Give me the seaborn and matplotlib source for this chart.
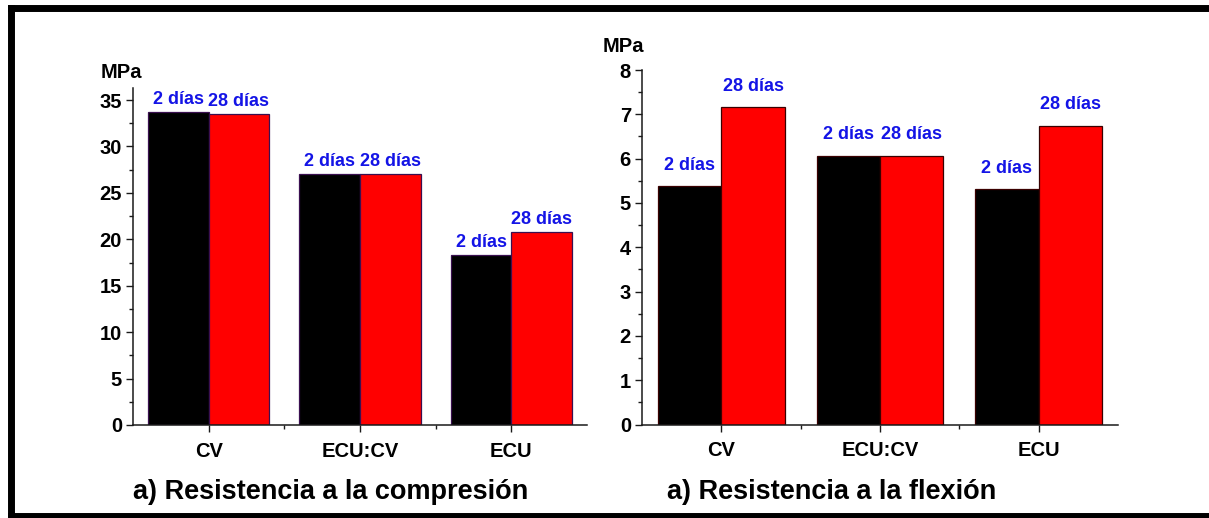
import matplotlib
matplotlib.use("Agg")
import matplotlib.pyplot as plt
from matplotlib.ticker import MultipleLocator, FixedLocator
import seaborn as sns
import pandas as pd

# Mezclas y edades de ensayo
mezclas = ["CV", "ECU:CV", "ECU"]
edades = ["2 días", "28 días"]

# Resistencia (MPa) por mezcla
compresion_2d = [33.7, 27.0, 18.3]
compresion_28d = [33.5, 27.0, 20.75]
flexion_2d = [5.38, 6.07, 5.31]
flexion_28d = [7.16, 6.07, 6.74]

titulos = ["a) Resistencia a la compresión", "a) Resistencia a la flexión"]
unidad = "MPa"

W, H = 1209, 518
DPI = 100

sns.set_theme(style="white")
plt.rcParams["font.family"] = ["Liberation Sans", "DejaVu Sans"]
plt.rcParams["font.weight"] = "bold"
plt.rcParams["text.color"] = "black"
plt.rcParams["xtick.color"] = "black"
plt.rcParams["ytick.color"] = "black"
plt.rcParams["xtick.labelcolor"] = "black"
plt.rcParams["ytick.labelcolor"] = "black"

fig = plt.figure(figsize=(W / DPI, H / DPI), dpi=DPI)


def px_rect(x0, y0, x1, y1):
    """Axes rectangle from pixel corners (top-left origin)."""
    return [x0 / W, 1 - y1 / H, (x1 - x0) / W, (y1 - y0) / H]


def frame(df, ax, ylim, major, minor, edge, pad):
    sns.barplot(data=df, x="mezcla", y="valor", hue="edad", order=mezclas,
                hue_order=edades, palette=["black", "red"], width=0.8, gap=0,
                edgecolor=edge, linewidth=0.9, saturation=1, legend=False, ax=ax)
    ax.set_xlim(-0.5, 2.5)
    ax.set_ylim(*ylim)
    ax.yaxis.set_major_locator(MultipleLocator(major))
    ax.yaxis.set_minor_locator(MultipleLocator(minor))
    ax.xaxis.set_minor_locator(FixedLocator([0.5, 1.5]))
    ax.set_xlabel("")
    ax.set_ylabel("")
    for s in ["top", "right"]:
        ax.spines[s].set_visible(False)
    for s in ["left", "bottom"]:
        ax.spines[s].set_color("#1a1a1a")
        ax.spines[s].set_linewidth(1.1)
    ax.tick_params(axis="both", which="major", direction="out", length=5,
                   width=1.0, color="#1a1a1a", labelsize=14.5, labelcolor="black",
                   bottom=True, left=True)
    ax.tick_params(axis="both", which="minor", direction="out", length=3,
                   width=1.0, color="#1a1a1a", bottom=True, left=True)
    ax.tick_params(axis="x", which="major", pad=7)
    ax.tick_params(axis="y", which="major", pad=3)
    for lab in ax.get_xticklabels() + ax.get_yticklabels():
        lab.set_fontweight("bold")
        lab.set_color("black")
    for cont, edad in zip(ax.containers, edades):
        ax.bar_label(cont, labels=[edad] * len(cont), padding=pad,
                     color="#1414e6", fontsize=13, fontweight="bold")


df_c = pd.DataFrame({
    "mezcla": mezclas * 2,
    "edad": [edades[0]] * 3 + [edades[1]] * 3,
    "valor": compresion_2d + compresion_28d,
})
df_f = pd.DataFrame({
    "mezcla": mezclas * 2,
    "edad": [edades[0]] * 3 + [edades[1]] * 3,
    "valor": flexion_2d + flexion_28d,
})

ax1 = fig.add_axes(px_rect(133, 88, 587, 425))
frame(df_c, ax1, (0, 36.3), 5, 2.5, "#3a1050", 3)

ax2 = fig.add_axes(px_rect(642, 70, 1118, 424.5))
frame(df_f, ax2, (0, 8), 1, 0.5, "#3a0000", 9)

# Unidades sobre cada eje vertical
fig.text(121 / W, 1 - 73 / H, unidad, ha="center", va="center",
         fontsize=14.5, fontweight="bold", color="black")
fig.text(623 / W, 1 - 46 / H, unidad, ha="center", va="center",
         fontsize=14.5, fontweight="bold", color="black")

# Títulos de cada panel
fig.text(331 / W, 1 - 492 / H, titulos[0], ha="center", va="center",
         fontsize=19.5, fontweight="bold", color="black")
fig.text(832 / W, 1 - 492 / H, titulos[1], ha="center", va="center",
         fontsize=19.5, fontweight="bold", color="black")

# Marco exterior grueso
lw = 5.0
for xs, ys in [([10.5, W + 5], [8, 8]),
               ([10.5, 10.5], [8, 515.5]),
               ([10.5, W + 5], [515.5, 515.5])]:
    fig.add_artist(plt.Line2D([x / W for x in xs], [1 - y / H for y in ys],
                              transform=fig.transFigure, color="black",
                              linewidth=lw, solid_capstyle="projecting",
                              clip_on=False))

fig.savefig("out.png", dpi=DPI, facecolor="white")
